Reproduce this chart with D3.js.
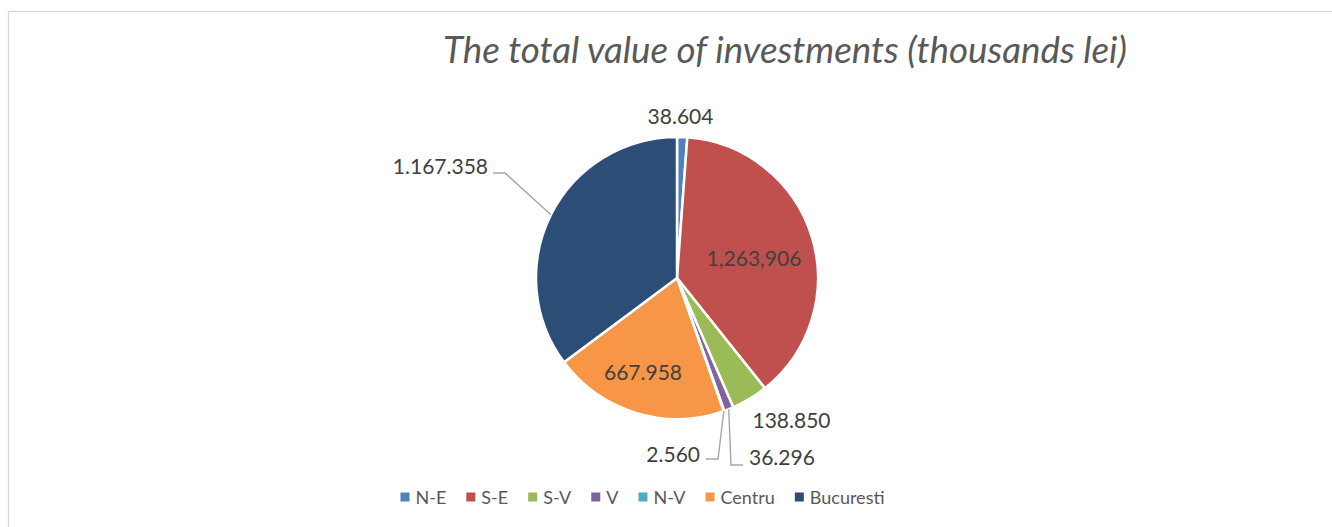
<!DOCTYPE html>
<html><head><meta charset="utf-8">
<script src="https://cdn.jsdelivr.net/npm/d3@7"></script>
<style>body{margin:0;background:#fff;overflow:hidden}</style>
</head><body><svg id="c" width="1332" height="527"></svg>
<script>
// ---- data ----
const categories = ["N-E","S-E","S-V","V","N-V","Centru","Bucuresti"];
const values = [38604,1263906,138850,36296,2560,667958,1167358];
const valueLabels = ["38.604","1,263,906","138.850","36.296","2.560","667.958","1.167.358"];
const colors = ["#4f81bd","#c0504d","#9bbb59","#8064a2","#4bacc6","#f79646","#2c4d75"];
const title = "The total value of investments (thousands lei)";

// ---- layout ----
const W = 1332, H = 527;
const cx = 677, cy = 278, R = 141;
const FONT = "Lato, 'Open Sans', sans-serif";
const labelFS = 21, legendFS = 18;
// label placement relative to pie centre (layout, not data)
const labelLayout = [
  {anchor:"middle", dx:3.5, dy:-162},
  {anchor:"middle", dx:77, dy:-20},
  {anchor:"middle", dx:114.5, dy:142.5},
  {anchor:"start", dx:72, dy:179, leader:[[54,187],[66,187]]},
  {anchor:"end", dx:23, dy:176, leader:[[41,181],[29,181]]},
  {anchor:"middle", dx:-34, dy:94},
  {anchor:"end", dx:-189, dy:-112, leader:[[-172,-105],[-184,-105]]}
];

const svg = d3.select("#c");
svg.append("rect").attr("x",0).attr("y",0).attr("width",W).attr("height",H).attr("fill","#fff");
svg.append("rect").attr("x",8.5).attr("y",11.5).attr("width",W+20).attr("height",H+20)
  .attr("fill","none").attr("stroke","#d9d9d9").attr("stroke-width",1.3);

// title, fitted to reference width
const t = svg.append("text").attr("x",785).attr("y",63).attr("text-anchor","middle")
  .attr("font-family",FONT).attr("font-style","italic").attr("font-size",30)
  .attr("fill","#595959").text(title);
const tw = t.node().getComputedTextLength();
t.attr("font-size", 30*684/tw);

const data = categories.map((c,i)=>({cat:c, value:values[i], label:valueLabels[i], color:colors[i], lay:labelLayout[i]}));
const pie = d3.pie().value(d=>d.value).sort(null);
const arcs = pie(data);
const arc = d3.arc().innerRadius(0).outerRadius(R);
const edge = d3.arc().innerRadius(R).outerRadius(R);

const g = svg.append("g").attr("transform",`translate(${cx},${cy})`);
g.selectAll("path.slice").data(arcs).join("path").attr("class","slice")
  .attr("d",arc).attr("fill",d=>d.data.color)
  .attr("stroke","#fff").attr("stroke-width",2.5).attr("stroke-linejoin","round");

// leader lines
g.selectAll("path.leader").data(arcs.filter(a=>a.data.lay.leader)).join("path")
  .attr("class","leader")
  .attr("d",a=>{const p=edge.centroid(a); return d3.line()([p, ...a.data.lay.leader]);})
  .attr("fill","none").attr("stroke","#a6a6a6").attr("stroke-width",1.4);

// labels
g.selectAll("text.lbl").data(arcs).join("text").attr("class","lbl")
  .attr("x",a=>a.data.lay.dx).attr("y",a=>a.data.lay.dy + labelFS*0.36)
  .attr("text-anchor",a=>a.data.lay.anchor)
  .attr("font-family",FONT).attr("font-size",labelFS).attr("fill","#404040")
  .text(a=>a.data.label);

// legend
const lg = svg.append("g");
const items = lg.selectAll("g").data(data).join("g");
items.append("rect").attr("width",9).attr("height",9).attr("y",492.5).attr("fill",d=>d.color);
items.append("text").attr("y",503.5).attr("font-family",FONT).attr("font-size",legendFS)
  .attr("fill","#595959").text(d=>d.cat);
let x = 0; const pos = [];
items.each(function(){
  const tw2 = d3.select(this).select("text").node().getComputedTextLength();
  pos.push(x); x += 15 + tw2 + 20;
});
const total = x - 20, startX = 642.5 - total/2;
items.each(function(d,i){
  d3.select(this).select("rect").attr("x",startX+pos[i]);
  d3.select(this).select("text").attr("x",startX+pos[i]+15);
});
</script></body></html>
